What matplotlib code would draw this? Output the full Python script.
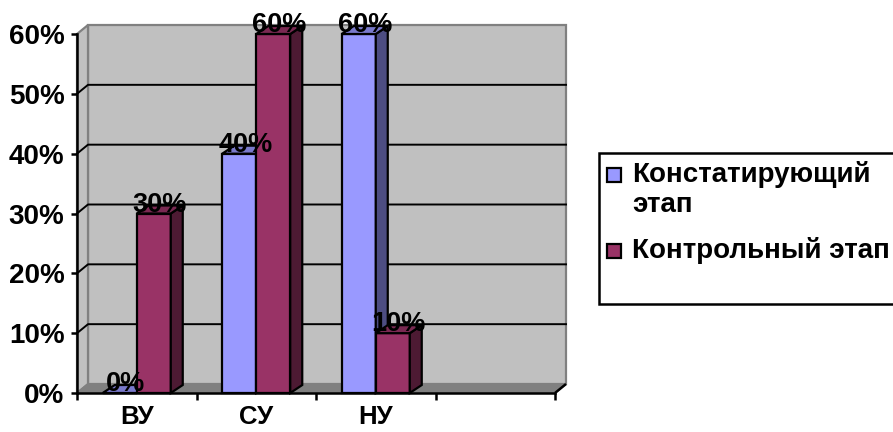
import matplotlib
matplotlib.use("Agg")
import matplotlib.pyplot as plt
from matplotlib.patches import Rectangle, Polygon

plt.rcParams['font.family'] = ['Liberation Sans', 'DejaVu Sans']
plt.rcParams['font.weight'] = 'bold'

# ---- data ----
categories = ["ВУ", "СУ", "НУ", ""]
series_names = ["Констатирующий этап", "Контрольный этап"]
legend_lines = ["Констатирующий\nэтап", "Контрольный этап"]
stage1 = [0, 40, 60]     # констатирующий этап, %
stage2 = [30, 60, 10]    # контрольный этап, %
y_ticks = [0, 10, 20, 30, 40, 50, 60]
y_tick_labels = ["0%", "10%", "20%", "30%", "40%", "50%", "60%"]

# ---- styling ----
front_cols = ["#9999FF", "#993366"]
side_cols = ["#4D4D82", "#4D1A33"]
top_cols = ["#7A7ACC", "#7A2952"]
wall_col = "#C0C0C0"
wall_edge = "#808080"
floor_col = "#808080"

W, H = 893, 432
fig = plt.figure(figsize=(W / 100, H / 100), dpi=100)
fig.patch.set_facecolor("white")

# axes frame in pixels: x 77..555, y 34..393
ax = fig.add_axes([77 / W, (H - 393) / H, (555 - 77) / W, (393 - 34) / H])
ncat = len(categories)
ymax = 60
ax.set_xlim(0, ncat)
ax.set_ylim(0, ymax)
ax.patch.set_visible(False)

# depth of the 3D walls and bars in data units
px_x = ncat / (555 - 77)
px_y = ymax / (393 - 34)
wdx, wdy = 11 * px_x, 9 * px_y
bdx, bdy = 12 * px_x, 8 * px_y
bar_w = 34 * px_x

# back wall, side wall, floor
ax.add_patch(Polygon([(wdx, wdy), (ncat + wdx, wdy), (ncat + wdx, ymax + wdy), (wdx, ymax + wdy)],
                     closed=True, facecolor=wall_col, edgecolor=wall_edge, lw=1.6, zorder=0.5, clip_on=False))
ax.add_patch(Polygon([(0, 0), (wdx, wdy), (wdx, ymax + wdy), (0, ymax)],
                     closed=True, facecolor=wall_col, edgecolor=wall_edge, lw=1.6, zorder=0.6, clip_on=False))
ax.add_patch(Polygon([(0, 0), (ncat, 0), (ncat + wdx, wdy), (wdx, wdy)],
                     closed=True, facecolor=floor_col, edgecolor=wall_edge, lw=1.2, zorder=0.7, clip_on=False))
ax.plot([ncat, ncat + wdx], [0, wdy], color="black", lw=1.8, zorder=0.8, clip_on=False,
        solid_capstyle="butt")

# gridlines across side and back walls
for v in y_ticks[1:-1]:
    ax.plot([0, wdx, ncat + wdx], [v, v + wdy, v + wdy], color="black", lw=1.4, zorder=0.9,
            clip_on=False)

# bars with side and top faces
for s, vals in enumerate([stage1, stage2]):
    xs = [i + 0.5 - bar_w + s * bar_w for i in range(len(vals))]
    ax.bar(xs, vals, width=bar_w, align="edge", color=front_cols[s], edgecolor="black",
           lw=1.6, zorder=3 + s, clip_on=False)
    for x0, v in zip(xs, vals):
        x1 = x0 + bar_w
        ax.add_patch(Polygon([(x1, 0), (x1 + bdx, bdy), (x1 + bdx, v + bdy), (x1, v)], closed=True,
                             facecolor=side_cols[s], edgecolor="black", lw=1.6, zorder=3 + s,
                             clip_on=False))
        ax.add_patch(Polygon([(x0, v), (x1, v), (x1 + bdx, v + bdy), (x0 + bdx, v + bdy)], closed=True,
                             facecolor=top_cols[s], edgecolor="black", lw=1.6, zorder=3 + s,
                             clip_on=False))
        ax.text(x0 + bar_w / 2 + bdx / 2, v + 9 * px_y, f"{v}%", ha="center", va="center",
                fontsize=19.5, fontweight="bold", color="black", zorder=10, clip_on=False)

# axes lines and ticks
for side in ["top", "right"]:
    ax.spines[side].set_visible(False)
for side in ["left", "bottom"]:
    ax.spines[side].set_color("black")
    ax.spines[side].set_linewidth(1.8)
    ax.spines[side].set_zorder(6)
ax.set_yticks(y_ticks)
ax.set_yticklabels(y_tick_labels)
ax.tick_params(axis="y", direction="out", length=4, width=1.8, pad=5, labelsize=20)
ax.set_xticks(range(ncat + 1))
ax.set_xticklabels([])
ax.set_xticks([i + 0.5 for i in range(ncat)], minor=True)
ax.set_xticklabels(categories, minor=True)
ax.tick_params(axis="x", which="major", direction="out", length=5, width=1.8)
ax.tick_params(axis="x", which="minor", length=0, pad=9, labelsize=18.5)
for lab in ax.get_yticklabels() + ax.get_xticklabels(minor=True):
    lab.set_fontweight("bold")

# legend box
def fx(x):
    return x / W

def fy(y):
    return 1 - y / H

fig.add_artist(Rectangle((fx(599), fy(304)), fx(W + 5) - fx(599), fy(153) - fy(304),
                         transform=fig.transFigure, facecolor="white", edgecolor="black", lw=1.8))
entries = [(175, legend_lines[0]), (251, legend_lines[1])]
for s, (yc, label) in enumerate(entries):
    fig.add_artist(Rectangle((fx(607), fy(yc + 7)), fx(14), 14 / H, transform=fig.transFigure,
                             facecolor=front_cols[s], edgecolor="black", lw=1.6))
    fig.text(fx(632), fy(yc - 14), label, ha="left", va="top", fontsize=20, fontweight="bold",
             linespacing=1.2)

fig.savefig("out.png", dpi=100)
